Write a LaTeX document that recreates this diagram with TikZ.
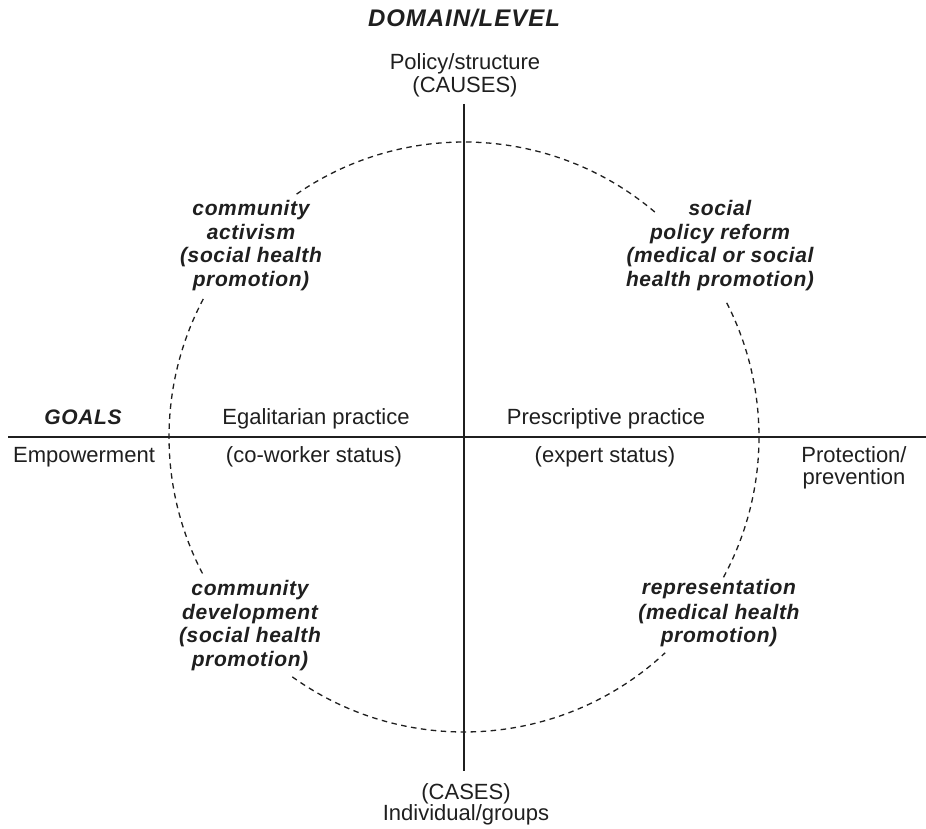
\documentclass[tikz,border=0pt]{standalone}
\usepackage{fontspec}
\setmainfont{Liberation Sans}
\newfontfamily\bifont[LetterSpace=3]{Liberation Sans}
\newfontfamily\headfont[LetterSpace=4]{Liberation Sans}
\begin{document}
\begin{tikzpicture}[x=1pt,y=1pt,
  reg/.style={font=\fontsize{22}{26}\selectfont, inner sep=0pt, anchor=base, text=black!88},
  bi/.style={font=\bifont\bfseries\itshape\fontsize{21}{24}\selectfont, inner sep=0pt, anchor=base, text=black!88},
  bihead/.style={font=\headfont\bfseries\itshape\fontsize{24}{28}\selectfont, inner sep=0pt, anchor=base, text=black!88},
  axisline/.style={line width=1.5pt, draw=black!88},
  ring/.style={line width=1.3pt, draw=black!88, dash pattern=on 5.5pt off 4.5pt}]
\useasboundingbox (0,0) rectangle (926,829);
\fill[white] (0,0) rectangle (926,829);

% axes
\coordinate (O) at (464,392);
\coordinate (vtop) at (464,725);
\coordinate (vbot) at (464,58);
\coordinate (hl) at (8,392);
\coordinate (hr) at (926,392);
\draw[axisline] (vtop) -- (vbot);
\draw[axisline] (hl) -- (hr);

% dashed circle (interrupted by labels)
\draw[ring] (O) ++(49.7:295) arc[start angle=49.7, end angle=125.2, radius=295];
\draw[ring] (O) ++(152.1:295) arc[start angle=152.1, end angle=207.7, radius=295];
\draw[ring] (O) ++(234.4:295) arc[start angle=234.4, end angle=313, radius=295];
\draw[ring] (O) ++(331.6:295) arc[start angle=331.6, end angle=387.9, radius=295];

% headings
\node[bihead] (domain) at (464,802) {DOMAIN/LEVEL};
\node[reg] (policy) at (465,759) {Policy/structure};
\node[reg] (causes) at (465,736) {(CAUSES)};
\node[reg] (cases) at (466,29) {(CASES)};
\node[reg] (indiv) at (466,8) {Individual/groups};

\node[bi] (goals) at (83,404) {GOALS};
\node[reg] (empow) at (84,366) {Empowerment};
\node[reg] (egal) at (316,404) {Egalitarian practice};
\node[reg] (cowork) at (314,366) {(co-worker status)};
\node[reg] (presc) at (606,404) {Prescriptive practice};
\node[reg] (expert) at (605,366) {(expert status)};
\node[reg] (prot) at (854,366) {Protection/};
\node[reg] (prev) at (854,344) {prevention};

% quadrant labels
\node[bi] (tl1) at (251,613) {community};
\node[bi] (tl2) at (251,589) {activism};
\node[bi] (tl3) at (251,566) {(social health};
\node[bi] (tl4) at (251,542) {promotion)};

\node[bi] (tr1) at (720,613) {social};
\node[bi] (tr2) at (720,589) {policy reform};
\node[bi] (tr3) at (720,566) {(medical or social};
\node[bi] (tr4) at (720,542) {health promotion)};

\node[bi] (bl1) at (250,233) {community};
\node[bi] (bl2) at (250,209.3) {development};
\node[bi] (bl3) at (250,186) {(social health};
\node[bi] (bl4) at (250,162) {promotion)};

\node[bi] (br1) at (719,234) {representation};
\node[bi] (br2) at (719,209.5) {(medical health};
\node[bi] (br3) at (719,186) {promotion)};
\end{tikzpicture}
\end{document}
